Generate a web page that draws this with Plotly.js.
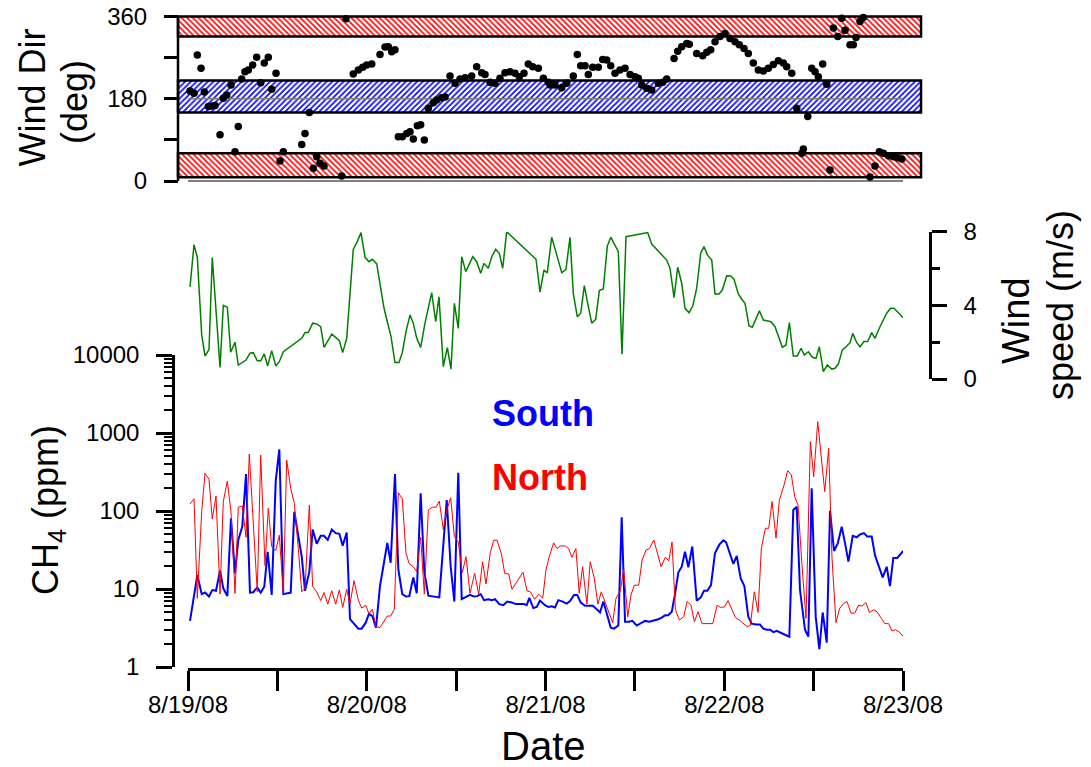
<!DOCTYPE html>
<html>
<head>
<meta charset="utf-8">
<script src="https://cdn.plot.ly/plotly-3.0.1.min.js"></script>
<style>html,body{margin:0;padding:0;background:#fff;}#chart{width:1091px;height:767px;}</style>
</head>
<body>
<div id="chart"></div>
<script>
// ---------------- DATA (hours after 8/19/08 00:00) ----------------
const wdHours = [0.27,0.81,1.25,1.75,2.19,2.73,3.18,3.63,4.30,4.74,5.20,5.77,6.31,6.75,7.21,7.65,8.10,8.69,9.22,9.76,10.24,10.78,11.24,11.82,12.35,12.80,15.27,15.71,16.29,16.82,17.28,17.72,18.26,20.64,21.21,22.19,22.87,23.46,23.99,24.67,25.78,26.45,26.89,27.35,27.79,28.24,28.77,29.37,29.81,30.25,30.79,31.24,31.73,32.27,32.94,33.39,34.06,34.51,35.18,35.85,36.52,37.19,38.09,38.76,39.44,39.88,40.55,41.22,41.89,42.56,43.24,43.91,44.48,45.11,45.69,46.28,47.04,47.71,48.38,48.61,49.28,50.18,50.85,51.73,52.27,52.73,53.31,53.75,54.34,55.09,55.68,56.22,56.76,57.33,58.00,58.68,59.35,60.02,60.46,60.92,61.59,62.26,63.15,63.74,64.27,65.26,65.75,66.29,66.96,67.31,68.30,69.11,69.65,70.18,70.76,71.43,72.10,72.77,73.45,74.02,74.65,75.23,75.90,76.57,77.25,77.92,78.59,79.26,79.93,80.39,81.06,81.73,82.40,82.62,83.21,83.74,84.19,84.63,85.22,85.76,86.20,86.65,87.24,87.77,88.22,88.89,89.33,89.69,90.23,90.67,91.57,92.24,92.82,93.36,94.03,94.70,95.23,95.83];
const wdDeg = [197,192,276,247,195,163,164,165,101,181,188,210,64,119,223,239,243,254,271,215,258,271,201,236,44,64,80,104,150,28,53,39,33,11,355,234,243,249,254,256,277,293,294,283,287,97,97,104,108,92,121,123,90,159,171,177,182,184,230,214,223,226,230,250,237,233,216,214,225,237,239,236,228,236,256,250,247,225,216,210,210,204,214,230,277,252,252,233,249,249,266,265,252,236,243,247,233,228,225,210,203,199,214,216,223,268,284,294,301,299,279,274,282,287,305,316,323,312,305,298,290,279,258,243,241,247,255,263,258,250,236,159,61,70,141,247,239,228,256,212,24,335,316,356,330,298,298,314,349,358,9,33,64,61,55,53,51,48];

const wsHours = [0.27,0.81,1.25,1.84,2.28,2.82,3.26,4.30,4.74,5.28,5.73,6.31,6.75,7.21,7.79,8.32,8.77,9.30,9.76,10.24,10.70,11.24,11.78,12.26,12.80,15.27,15.71,16.15,16.74,17.28,17.82,18.26,18.76,19.30,19.83,20.32,20.77,21.31,22.19,22.73,23.23,23.77,24.30,24.75,25.34,25.87,26.32,26.81,27.26,27.79,28.33,28.77,29.27,29.81,30.25,30.71,31.24,31.82,32.72,33.26,33.70,34.28,34.82,35.31,35.76,36.29,36.75,37.29,37.77,38.23,38.76,39.30,39.74,40.32,40.78,41.31,41.80,42.25,42.79,46.73,47.26,47.80,48.24,48.83,49.51,50.18,50.75,51.29,51.73,52.27,52.73,53.21,53.75,54.21,54.74,55.23,55.76,56.30,56.76,57.78,58.27,58.81,61.72,62.26,64.27,64.72,65.26,65.75,66.29,66.73,67.27,67.77,68.30,68.84,69.28,69.73,70.32,70.76,71.30,71.74,72.33,72.87,73.31,73.89,74.35,74.79,75.33,75.77,76.23,76.72,77.25,77.79,78.28,78.82,79.26,79.80,80.29,80.74,81.27,81.81,82.31,82.75,83.29,83.83,84.32,84.77,85.30,85.84,86.43,86.87,87.32,87.85,88.35,88.89,89.25,89.79,90.23,90.76,91.26,91.80,92.24,92.91,93.81,94.35,94.79,95.36,96.03];
const wsVals = [5.0,7.3,6.6,2.4,1.25,1.6,6.6,0.63,4.0,3.9,1.45,2.0,0.76,0.89,1.03,1.4,1.43,0.99,0.99,1.36,0.71,1.54,0.71,0.94,1.48,2.21,2.52,2.52,3.03,2.99,2.84,1.72,2.08,2.44,2.26,2.08,1.43,2.21,7.04,7.46,7.95,6.61,6.37,6.5,6.25,5.01,3.84,3.03,2.3,0.89,0.89,1.43,2.57,3.48,3.03,2.21,1.72,3.03,4.69,3.11,4.47,0.67,1.7,0.54,4.11,2.75,6.64,5.83,6.28,6.64,6.37,5.74,6.28,6.01,6.64,7.04,6.83,6.01,8.0,6.5,4.72,5.92,5.76,7.7,6.74,5.77,5.96,7.7,4.65,3.38,3.57,5.07,3.93,3.03,3.24,4.8,4.89,7.22,7.7,6.92,1.34,7.73,7.95,7.33,6.46,6.01,4.42,6.07,5.2,3.84,3.6,3.96,4.93,6.83,7.19,6.74,6.46,4.62,4.62,4.83,5.61,5.59,5.42,4.62,4.33,4.11,2.88,2.81,3.24,3.71,3.2,3.15,3.11,2.84,2.3,1.72,1.85,3.06,1.25,1.25,1.67,1.3,1.48,1.18,1.12,1.75,0.4,0.76,0.54,0.58,0.81,1.58,1.75,1.97,2.48,1.97,1.75,2.03,2.03,2.52,2.21,2.84,3.57,3.84,3.84,3.6,3.33];

const southHours = [0.27,1.25,1.84,2.28,2.82,3.26,3.76,4.30,4.74,5.28,5.77,6.31,6.75,7.29,7.79,8.32,8.77,9.30,9.76,10.24,10.70,11.24,11.78,12.26,12.80,13.79,14.27,14.81,15.27,15.71,16.29,16.74,17.28,17.82,18.26,18.76,19.30,19.83,20.32,20.77,21.31,21.75,22.29,22.87,23.32,23.86,24.30,24.75,25.24,25.78,26.22,26.76,27.21,27.79,28.24,28.77,29.27,29.71,30.25,30.71,31.24,31.73,32.27,32.80,33.30,33.74,34.74,35.27,35.76,36.29,36.75,37.42,37.86,38.40,38.84,39.30,39.74,40.32,40.78,41.22,41.80,42.34,42.87,43.46,44.04,44.58,45.11,45.48,45.83,46.36,46.82,47.26,47.93,48.38,48.83,49.28,49.72,50.31,50.85,51.29,51.83,52.27,52.73,53.31,53.75,54.34,54.88,55.32,55.77,56.22,56.76,57.20,57.78,58.23,58.68,59.21,59.66,60.25,60.79,61.36,61.94,62.48,63.15,63.60,64.05,64.49,64.95,65.39,65.84,66.29,66.73,67.18,67.71,68.30,68.84,69.28,69.73,70.22,70.76,71.34,71.88,72.24,72.77,73.22,73.68,74.21,74.70,75.23,75.69,76.26,76.80,77.25,77.71,78.15,78.59,79.05,79.58,80.16,80.74,81.27,81.73,82.17,82.84,83.29,83.74,84.28,84.77,85.22,85.76,86.20,86.74,87.24,87.77,88.22,88.67,89.25,89.79,90.23,90.76,91.21,91.80,92.24,92.82,93.27,93.81,94.25,94.70,95.23,96.03];
const southPpm = [3.9,15.1,8.6,9.0,8.0,9.7,9.5,17.2,10.2,8.1,80.6,15.9,42.5,63,298,9.0,9.1,10.5,9.0,10.7,30,8.4,245,618,8.6,9.0,98,47,26,9.5,16.7,58,38,48,48,42.5,58,52,51,36,53,4.1,3.6,3.1,3.1,3.7,4.8,4.5,3.2,11,19.3,39,21.7,298,17.9,8.6,8.0,8.1,14.1,8.8,169,16.7,8.2,8.1,8.0,7.8,138,19.3,6.9,310,7.4,8.0,8.4,8.0,8.1,8.6,7.2,7.4,7.2,7.4,6.4,6.2,6.9,6.7,6.4,6.4,6.4,6.2,7.7,5.7,5.9,7.1,6.2,5.9,6.0,5.8,7.2,6.9,6.5,7.0,8.4,8.4,6.7,6.1,6.1,6.1,5.5,5.0,6.9,4.9,3.2,3.1,3.4,83,3.8,3.8,3.9,3.4,3.6,3.9,3.8,3.9,4.1,4.3,4.6,4.6,5.1,8.6,16.4,19.3,30,19,35,7.1,7.8,9.5,9.5,11.2,29,37,42,40,28,21,26.5,13.7,10.9,4.4,3.6,3.5,3.5,3.1,3.0,3.0,2.8,2.9,2.75,2.6,2.45,103,113,9.7,3.0,2.45,195,4.4,1.69,5.0,2.05,101,30.7,38.5,63,38.5,22.4,48,46,50,52,47,47,27,19.3,14.1,19.3,10.9,25,25,30.7];

const northHours = [0.27,0.81,1.25,1.84,2.28,2.82,3.26,3.76,4.30,4.74,5.28,5.77,6.31,6.75,7.29,7.79,8.23,8.77,9.30,9.76,10.34,10.78,11.24,11.78,12.26,12.80,13.25,13.79,14.27,14.81,15.27,15.71,16.29,16.74,17.28,17.82,18.26,18.76,19.30,19.83,20.32,20.77,21.31,21.75,22.29,22.87,23.32,23.86,24.30,24.75,25.24,25.78,26.22,26.76,27.21,27.70,28.24,28.77,29.27,29.71,30.25,30.71,31.24,31.73,32.27,32.80,33.30,33.74,34.28,34.74,35.27,35.76,36.29,36.83,37.33,37.86,38.49,39.03,39.56,40.01,40.58,41.04,41.48,42.06,42.52,43.06,43.50,44.04,44.48,44.98,45.51,45.96,46.55,47.09,47.63,48.06,48.50,49.09,49.54,49.98,50.65,51.11,51.55,52.08,52.53,52.98,53.56,54.01,54.55,55.04,55.49,56.03,56.49,57.02,57.47,58.05,58.50,59.04,59.48,59.93,60.52,60.97,61.50,61.95,62.54,63.07,63.52,64.09,64.55,64.99,65.44,65.98,66.56,67.01,67.54,67.99,68.48,69.02,69.47,70.00,70.46,71.04,71.48,72.02,72.51,73.05,73.49,74.03,74.62,75.06,75.50,76.04,76.54,76.98,77.52,77.97,78.42,78.95,79.40,79.99,80.52,81.01,81.46,81.91,82.44,82.98,83.56,84.01,84.55,85.03,85.49,86.02,86.47,87.00,87.50,88.04,88.48,89.02,89.51,90.05,90.49,91.03,91.48,92.07,92.51,93.09,93.55,94.08,94.52,94.97,95.51,96.03];
const northPpm = [123,143,7.6,98,304,255,79,156,8.6,132,242,98,8.8,112,116,46,538,70,9.2,522,20,108,35,31,49,8.8,451,195,126,33,9.2,10.2,119,10.7,9.2,7.1,9.0,6.4,9.5,6.4,9.7,5.8,9.9,6.4,12.8,7.2,5.7,6.2,4.8,5.5,3.3,3.2,3.8,4.5,4.5,5.5,172,143,28.7,21,19.3,16.7,46,8.6,103,112,112,134,58,103,148,47,40,16.2,26,8.8,15.9,8.6,22.4,11.6,29,42,42.5,28.7,15.9,15.6,9.9,11.8,13.7,16.4,9.5,9.2,7.4,8.6,7.6,17.5,26,39,33,35.6,35.6,33,25.5,33,8.8,19.3,6.4,22.4,13.7,6.4,9.2,6.7,4.9,3.7,7.6,9.5,17.9,4.4,8.4,11.2,11.2,23.5,31.6,33,42.5,28.7,19.3,25.5,23,40,5.4,4.0,4.4,6.9,6.2,3.8,5.1,3.6,3.6,3.6,3.6,6.2,5.8,5.9,7.1,5.4,4.3,4.0,3.6,3.3,3.4,9.2,5.0,33,60,60,132,45,138,209,329,290,153,119,20,4.2,774,275,1396,522,177,636,24.7,3.7,5.65,6.55,6.9,4.9,4.9,6.2,6.05,6.7,5.0,5.4,5.1,4.2,3.6,3.6,2.9,3.0,2.8,2.45];

// wind-direction sector bands (deg)
const bandLow = [8, 61];
const bandMid = [150, 220];
const bandHigh = [316, 360];

// x ticks: labels each day, minor ticks at noon
const xTickHours = [0,24,48,72,96];
const xTickLabels = ['8/19/08','8/20/08','8/21/08','8/22/08','8/23/08'];
const xMinorHours = [12,36,60,84];
const dirTicks = [0,180,360], dirMinor = [90,270];
const spdTicks = [0,4,8], spdMinor = [2,6];
const ppmTicks = [1,10,100,1000,10000], ppmLabels = ['1','10','100','1000','10000'];

// ---------------- helpers ----------------
const W = 1091, H = 767;
const BASE = Date.UTC(2008,7,19);
function t(h){ return new Date(BASE + Math.round(h*3600000)).toISOString().slice(0,19).replace('T',' '); }
const px = v => v/W, py = v => 1 - v/H;
const FONT = 'Liberation Sans, Arial, Helvetica, sans-serif';

const ppmMinor = [];
for (let d=1; d<=1000; d*=10) for (let k=2; k<=9; k++) ppmMinor.push(k*d);

// band extent (hours) slightly beyond the date range
const bandStartH = -1.34, bandEndH = 96 + 2.42;

function band(r, color, shape){
  return {x:[t(bandStartH),t(bandEndH),t(bandEndH),t(bandStartH),t(bandStartH)],
    y:[r[0],r[0],r[1],r[1],r[0]], xaxis:'x2', yaxis:'y2', mode:'lines', fill:'toself',
    fillcolor:'white', fillpattern:{shape:shape, fgcolor:color, bgcolor:'white', size:4, solidity:0.4, fillmode:'replace'},
    line:{color:'black', width:2.5}, hoverinfo:'skip'};
}

const traces = [
  band(bandLow, '#ff0000', '\\'),
  band(bandMid, '#0000ff', '/'),
  band(bandHigh, '#ff0000', '\\'),
  {x:[t(0),t(96)], y:[180,180], xaxis:'x2', yaxis:'y2', mode:'lines', line:{color:'#808080', width:1.5}, hoverinfo:'skip'},
  {x:[t(0),t(96)], y:[0,0], xaxis:'x2', yaxis:'y2', mode:'lines', line:{color:'black', width:1.2}, hoverinfo:'skip'},
  {x:wdHours.map(t), y:wdDeg, xaxis:'x2', yaxis:'y2', mode:'markers', marker:{color:'black', size:7.5}, cliponaxis:false},
  {x:wsHours.map(t), y:wsVals, xaxis:'x', yaxis:'y3', mode:'lines', line:{color:'#008000', width:1.5}},
  {x:southHours.map(t), y:southPpm, xaxis:'x', yaxis:'y', mode:'lines', line:{color:'#0000ff', width:2}},
  {x:northHours.map(t), y:northPpm, xaxis:'x', yaxis:'y', mode:'lines', line:{color:'#ff0000', width:1}}
];

const tickCommon = {ticks:'outside', tickcolor:'black', tickwidth:2.5, showgrid:false, zeroline:false, tickfont:{size:24, color:'black'}};

const layout = {
  width:W, height:H, margin:{l:0,r:0,t:0,b:0}, showlegend:false,
  paper_bgcolor:'white', plot_bgcolor:'rgba(0,0,0,0)',
  font:{family:FONT, color:'black'},
  xaxis: Object.assign({}, tickCommon, {type:'date', domain:[px(188),px(903)], range:[t(0),t(96)],
    anchor:'free', position:py(669), showline:true, linewidth:2.5, linecolor:'black', ticklen:20,
    tickmode:'array', tickvals:xTickHours.map(t), ticktext:xTickLabels, ticklabelstandoff:-7,
    minor:{tickmode:'array', tickvals:xMinorHours.map(t), ticks:'outside', ticklen:20, tickwidth:2.5, tickcolor:'black', showgrid:false}}),
  xaxis2: {type:'date', domain:[px(170),px(930)], range:[t(-2.4167),t(96+3.625)], visible:false, anchor:'y2'},
  yaxis2: Object.assign({}, tickCommon, {domain:[py(185.57),py(11.93)], range:[-10,370], anchor:'free', position:px(178),
    showline:false, ticklen:14, tickmode:'array', tickvals:dirTicks, ticklabelstandoff:12,
    minor:{tickmode:'array', tickvals:dirMinor, ticks:'outside', ticklen:14, tickwidth:2.5, tickcolor:'black', showgrid:false}}),
  yaxis: Object.assign({}, tickCommon, {type:'log', domain:[py(667),py(355)], range:[0,4], anchor:'free', position:px(173),
    showline:true, linewidth:2.5, linecolor:'black', ticklen:16, tickmode:'array', tickvals:ppmTicks, ticktext:ppmLabels, ticklabelstandoff:12,
    minor:{tickmode:'array', tickvals:ppmMinor, ticks:'outside', ticklen:8, tickwidth:1.5, tickcolor:'black', showgrid:false}}),
  yaxis3: Object.assign({}, tickCommon, {domain:[py(379),py(231.7)], range:[0,8], anchor:'free', position:px(930), side:'right',
    showline:true, linewidth:2.5, linecolor:'black', ticklen:15, tickmode:'array', tickvals:spdTicks, ticklabelstandoff:12,
    minor:{tickmode:'array', tickvals:spdMinor, ticks:'outside', ticklen:8, tickwidth:2.5, tickcolor:'black', showgrid:false}}),
  shapes:[{type:'line', xref:'paper', yref:'y2', x0:px(178), x1:px(178), y0:0, y1:360, line:{color:'black', width:2.5}}],
  annotations:[
    {text:'Wind Dir', x:px(32), y:py(97.5), textangle:-90, font:{size:36}},
    {text:'(deg)', x:px(74), y:py(102), textangle:-90, font:{size:36}},
    {text:'CH<sub>4</sub> (ppm)', x:px(48), y:py(510), textangle:-90, font:{size:36}},
    {text:'Wind', x:px(1016), y:py(321), textangle:-90, font:{size:38}},
    {text:'speed (m/s)', x:px(1060), y:py(305), textangle:-90, font:{size:36}},
    {text:'Date', x:px(543), y:py(746), font:{size:40}},
    {text:'<b>South</b>', x:px(490), y:py(413), xanchor:'left', font:{size:36, color:'#0000ff'}},
    {text:'<b>North</b>', x:px(490), y:py(477), xanchor:'left', font:{size:36, color:'#ff0000'}}
  ].map(a => Object.assign({xref:'paper', yref:'paper', showarrow:false, xanchor:'center', yanchor:'middle'}, a))
};

Plotly.newPlot('chart', traces, layout, {displayModeBar:false, responsive:false});
</script>
</body>
</html>
